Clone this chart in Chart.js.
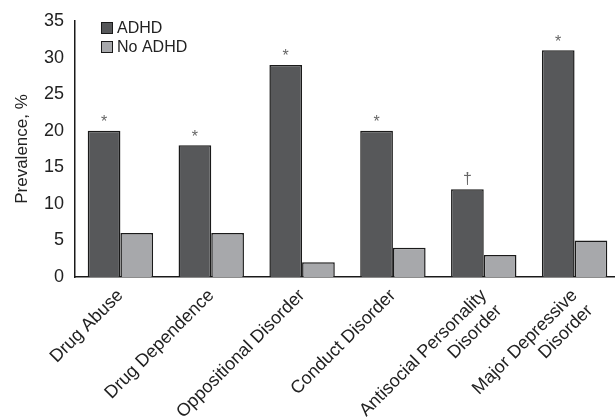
<!DOCTYPE html>
<html>
<head>
<meta charset="utf-8">
<script src="https://cdn.jsdelivr.net/npm/chart.js@4.4.0/dist/chart.umd.min.js"></script>
<style>
  html, body { margin: 0; padding: 0; background: #fff; overflow: hidden; }
  #wrap { width: 620px; height: 419px; }
</style>
</head>
<body>
<div id="wrap"><canvas id="chart"></canvas></div>
<script>
// ===== Data =====
const categories = [
  "Drug Abuse",
  "Drug Dependence",
  "Oppositional Disorder",
  "Conduct Disorder",
  ["Antisocial Personality", "Disorder"],
  ["Major Depressive", "Disorder"]
];
const adhdValues = [20, 18, 29, 20, 12, 31];
const noAdhdValues = [6, 6, 2, 4, 3, 5];
const adhdMarks = ["*", "*", "*", "*", "\u2020", "*"];
const yTicks = [0, 5, 10, 15, 20, 25, 30, 35];

const FONT = "'Liberation Sans', Arial, Helvetica, sans-serif";
const DARK = "#57585a";
const LIGHT = "#a7a8ab";
const EDGE = "#1a1a1a";

// ===== Plugin: asterisks above ADHD bars =====
const marksPlugin = {
  id: "marks",
  afterDatasetsDraw(chart) {
    const ctx = chart.ctx;
    const meta = chart.getDatasetMeta(0);
    ctx.save();
    ctx.fillStyle = "#666";
    ctx.textAlign = "center";
    ctx.textBaseline = "bottom";
    ctx.font = "16px " + FONT;
    meta.data.forEach((bar, i) => {
      const m = adhdMarks[i];
      if (!m) return;
      ctx.fillText(m, bar.x, bar.y - (m === "*" ? 0 : 2));
    });
    ctx.restore();
  }
};

// ===== Plugin: legend in the top-left of the plot =====
const legendPlugin = {
  id: "boxLegend",
  afterDraw(chart) {
    const ctx = chart.ctx;
    const area = chart.chartArea;
    const items = chart.data.datasets.map(d => ({ text: d.label, color: d.backgroundColor }));
    ctx.save();
    ctx.font = "16px " + FONT;
    ctx.textBaseline = "middle";
    items.forEach((it, i) => {
      const x = area.left + 26;
      const y = area.top + 1 + i * 19;
      ctx.fillStyle = it.color;
      ctx.fillRect(x, y, 12, 12);
      ctx.strokeStyle = EDGE;
      ctx.lineWidth = 1;
      ctx.strokeRect(x + 0.5, y + 0.5, 11, 11);
      ctx.fillStyle = "#222";
      ctx.fillText(it.text, x + 16, y + 6.5);
    });
    ctx.restore();
  }
};

new Chart(document.getElementById("chart"), {
  type: "bar",
  data: {
    labels: categories,
    datasets: [
      {
        label: "ADHD",
        data: adhdValues,
        backgroundColor: DARK,
        borderColor: EDGE,
        borderWidth: 1.5,
        borderSkipped: "bottom",
        categoryPercentage: 0.72,
        barPercentage: 1
      },
      {
        label: "No ADHD",
        data: noAdhdValues,
        backgroundColor: LIGHT,
        borderColor: EDGE,
        borderWidth: 1.5,
        borderSkipped: "bottom",
        categoryPercentage: 0.72,
        barPercentage: 1
      }
    ]
  },
  options: {
    responsive: true,
    maintainAspectRatio: false,
    animation: false,
    layout: { padding: { top: 21, right: 0, left: 0, bottom: 0 } },
    plugins: {
      legend: { display: false },
      tooltip: { enabled: false }
    },
    scales: {
      x: {
        afterFit: axis => { axis.height = 142; },
        grid: { display: false, drawTicks: false },
        border: { display: true, color: EDGE, width: 1.5 },
        ticks: {
          color: "#222",
          font: { family: FONT, size: 18 },
          minRotation: 45,
          maxRotation: 45,
          autoSkip: false,
          padding: 8
        }
      },
      y: {
        min: 0,
        max: 35,
        afterBuildTicks: axis => { axis.ticks = yTicks.map(v => ({ value: v })); },
        afterFit: axis => { axis.width = 75; },
        grid: { display: false, drawOnChartArea: false, drawTicks: true, tickLength: 8, tickColor: EDGE },
        border: { display: true, color: EDGE, width: 1.5 },
        ticks: {
          color: "#222",
          font: { family: FONT, size: 18 },
          padding: 3
        },
        title: {
          display: true,
          text: "Prevalence, %",
          color: "#222",
          font: { family: FONT, size: 17 },
          padding: { top: 12, bottom: 4 }
        }
      }
    }
  },
  plugins: [marksPlugin, legendPlugin]
});
</script>
</body>
</html>
